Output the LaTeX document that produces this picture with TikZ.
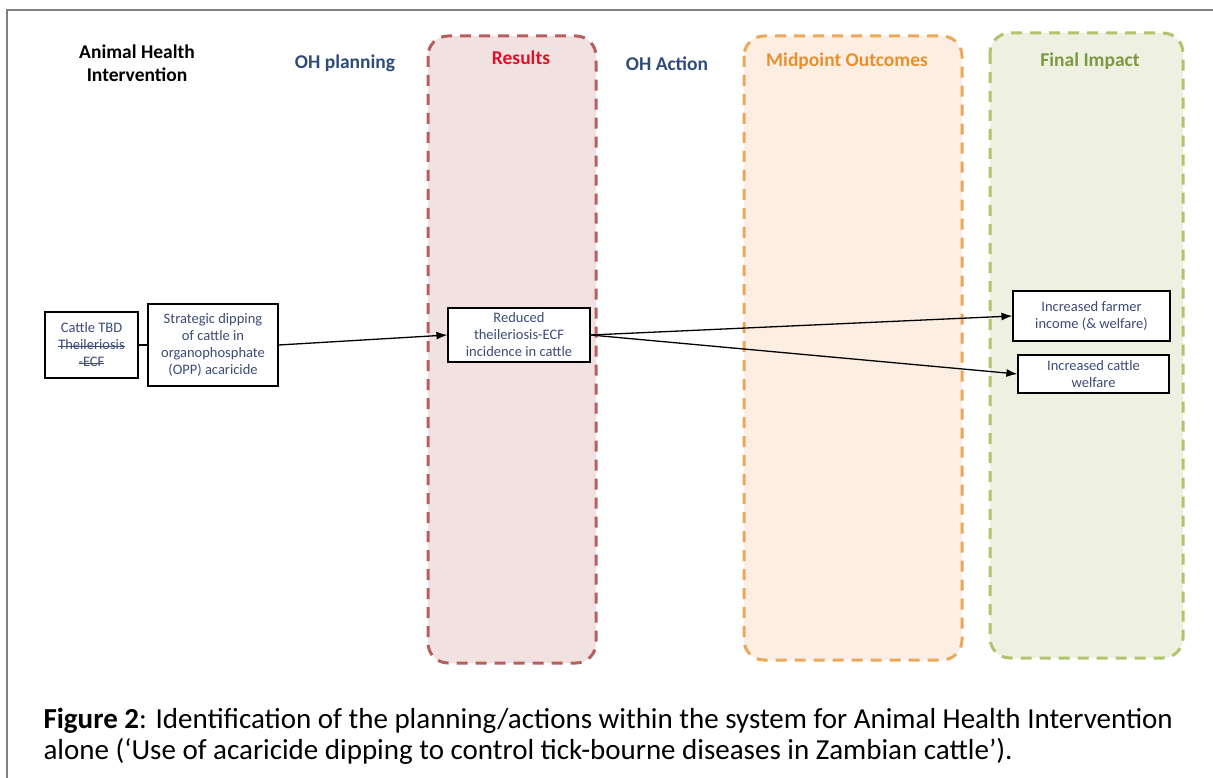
\documentclass[tikz,border=0pt]{standalone}
\usepackage{fontspec}
\setmainfont{Carlito}
\usetikzlibrary{arrows.meta}
\definecolor{navy}{RGB}{47,75,124}
\definecolor{boxtext}{RGB}{60,76,120}
\definecolor{resline}{RGB}{181,96,94}
\definecolor{resfill}{RGB}{242,225,225}
\definecolor{resred}{RGB}{222,16,40}
\definecolor{midline}{RGB}{235,167,90}
\definecolor{midfill}{RGB}{252,238,226}
\definecolor{midtext}{RGB}{232,144,46}
\definecolor{finline}{RGB}{175,196,107}
\definecolor{finfill}{RGB}{238,241,226}
\definecolor{fintext}{RGB}{123,154,64}
\newsavebox{\strikebox}
\newcommand{\strike}[1]{\sbox{\strikebox}{#1}\rlap{\raisebox{0.25em}{\rule{\wd\strikebox}{0.7pt}}}\usebox{\strikebox}}

\begin{document}
\begin{tikzpicture}
                \tikzset{x=1pt, y=-1pt}
                \tikzstyle{column}=[line width=3pt, rounded corners=20pt, dash pattern=on 11pt off 8pt]
                \tikzstyle{head}=[font=\fontsize{19.5}{23}\selectfont\bfseries, align=center]
                \tikzstyle{step box}=[rectangle, draw, line width=1.2pt, fill=white, text=boxtext,
                                      align=center, inner sep=2pt, font=\fontsize{14.5}{17}\selectfont]
                \tikzstyle{link}=[line width=1.3pt, -{Latex[length=11pt, width=8pt]}]

                \useasboundingbox (0,0) rectangle (1213,778);
                \draw [gray, line width=2pt] (7,778) -- (7,10) -- (1213,10);

                % columns
                \draw [column, draw=resline, fill=resfill] (428,36) rectangle (596,663);
                \draw [column, draw=midline, fill=midfill] (744,36) rectangle (962,660);
                \draw [column, draw=finline, fill=finfill] (990,33) rectangle (1183,658);

                % headings
                \draw (137,63)      node[head]                (hAHI)  {Animal Health\\Intervention};
                \draw (345,63)      node[head, text=navy]     (hPlan) {OH planning};
                \draw (521,58)      node[head, text=resred]   (hRes)  {Results};
                \draw (667,64)      node[head, text=navy]     (hAct)  {OH Action};
                \draw (847,61)      node[head, text=midtext]  (hMid)  {Midpoint Outcomes};
                \draw (1090,61)     node[head, text=fintext]  (hFin)  {Final Impact};

                % boxes
                \draw (91.5,345)    node[step box, minimum width=93pt, minimum height=66pt]   (tbd)
                                    {Cattle TBD\\\strike{Theileriosis}\\\strike{-ECF}};
                \draw (213,345)     node[step box, minimum width=130pt, minimum height=82pt]  (dip)
                                    {Strategic dipping\\of cattle in\\organophosphate\\(OPP) acaricide};
                \draw (519,335)     node[step box, minimum width=142pt, minimum height=54pt]  (ecf)
                                    {Reduced\\theileriosis-ECF\\incidence in cattle};
                \draw (1091.5,316)  node[step box, minimum width=157pt, minimum height=50pt]  (income)
                                    {Increased farmer\\income (\& welfare)};
                \draw (1093.5,374)  node[step box, minimum width=151pt, minimum height=38pt]  (welfare)
                                    {Increased cattle\\welfare};

                \draw [line width=1.3pt]    (tbd) -- (dip);
                \draw [link]                (dip.east) -- (ecf.west);
                \draw [link]                (ecf.east) -- (income.west);
                \draw [link]                (ecf.east) -- (welfare.west);

                % caption
                \draw (40,736)      node[anchor=west, align=left, font=\fontsize{29}{31}\selectfont] (caption)
                                    {\textbf{Figure 2}: Identification of the planning/actions within the system for Animal Health Intervention\\
                                     alone (‘Use of acaricide dipping to control tick-bourne diseases in Zambian cattle’).};
            \end{tikzpicture}
\end{document}
